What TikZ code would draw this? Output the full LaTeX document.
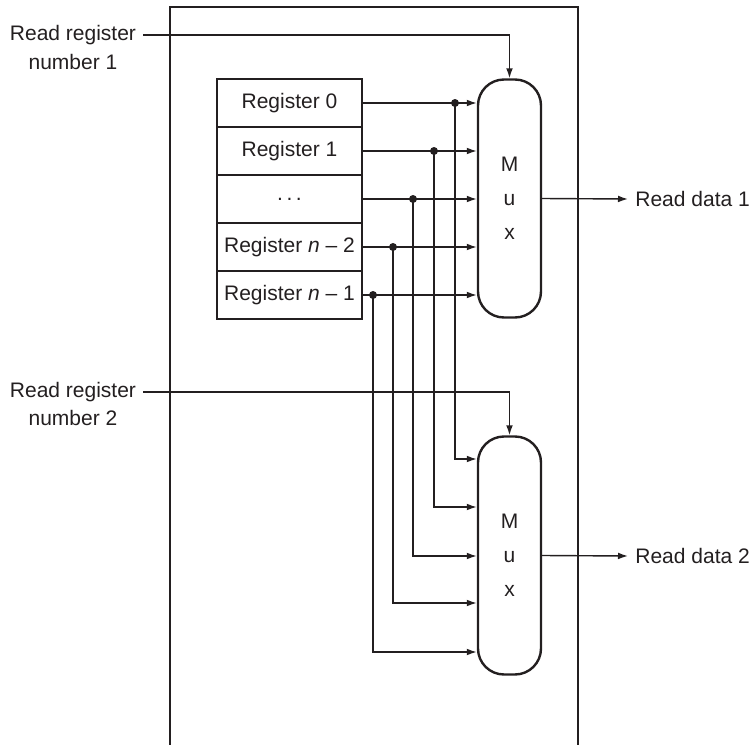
\documentclass[tikz,border=0pt]{standalone}
\usepackage{fontspec}
\setmainfont{Liberation Sans}
\usepackage{tikz}
\usetikzlibrary{arrows.meta,positioning,calc}
\definecolor{ink}{RGB}{35,31,32}

\tikzset{
  regbox/.style={draw=ink,line width=1.2pt,minimum width=72.5pt,minimum height=24pt,inner sep=0pt,text=ink,font=\fontsize{10.5}{12.6}\selectfont},
  muxbox/.style={draw=ink,line width=1.2pt,rounded corners=13pt,minimum width=31.5pt,minimum height=119pt,inner sep=0pt,align=center,text=ink,font=\fontsize{10.5}{17}\selectfont},
  wire/.style={draw=ink,line width=0.7pt},
  arr/.style={wire,-{Latex[length=5pt,width=3.4pt]}},
  lbl/.style={text=ink,inner sep=3.5pt,font=\fontsize{10.5}{12.6}\selectfont},
  tapdot/.style={fill=ink}
}

\begin{document}
\begin{tikzpicture}[x=0.5pt,y=-0.5pt]
  \useasboundingbox (0,0) rectangle (752,745);

  % register file outline (open at the bottom)
  \draw[ink,line width=1.3pt] (170,745) -- (170,7) -- (578,7) -- (578,745);

  % registers
  \node[regbox] (reg0) at (289.5,103) {Register 0};
  \node[regbox] (reg1) at (289.5,151) {Register 1};
  \node[regbox] (reg2) at (289.5,199) {.\,.\,.};
  \node[regbox] (reg3) at (289.5,247) {Register \textit{n} -- 2};
  \node[regbox] (reg4) at (289.5,295) {Register \textit{n} -- 1};

  % multiplexors
  \node[muxbox] (mux1) at (509.5,198.5) {M\\u\\x};
  \node[muxbox] (mux2) at (509.5,555.5) {M\\u\\x};

  % read port labels
  \node[lbl] (rr1) at (73,35) {Read register};
  \node[lbl] (rr1n) at (73,62) {number 1};
  \node[lbl] (rr2) at (73,392) {Read register};
  \node[lbl] (rr2n) at (73,418) {number 2};
  \node[lbl,anchor=west] (rd1) at (628,199) {Read data 1};
  \node[lbl,anchor=west] (rd2) at (628,556) {Read data 2};

  % select lines
  \draw[arr] (rr1.east) -| (mux1.north);
  \draw[arr] (rr2.east) -| (mux2.north);

  % register outputs into mux 1
  \draw[arr] (reg0.east) -- (reg0.east -| mux1.west);
  \draw[arr] (reg1.east) -- (reg1.east -| mux1.west);
  \draw[arr] (reg2.east) -- (reg2.east -| mux1.west);
  \draw[arr] (reg3.east) -- (reg3.east -| mux1.west);
  \draw[arr] (reg4.east) -- (reg4.east -| mux1.west);

  % taps down to mux 2
  \coordinate (tap0) at (455,103);
  \coordinate (tap1) at (434,151);
  \coordinate (tap2) at (413,199);
  \coordinate (tap3) at (393,247);
  \coordinate (tap4) at (373,295);
  \draw[arr] (tap0) |- ($(mux2.west)+(0,-96.5)$);
  \draw[arr] (tap1) |- ($(mux2.west)+(0,-48.5)$);
  \draw[arr] (tap2) |- ($(mux2.west)+(0,0.5)$);
  \draw[arr] (tap3) |- ($(mux2.west)+(0,47.5)$);
  \draw[arr] (tap4) |- ($(mux2.west)+(0,96.5)$);
  \fill[tapdot] (tap0) circle (2pt);
  \fill[tapdot] (tap1) circle (2pt);
  \fill[tapdot] (tap2) circle (2pt);
  \fill[tapdot] (tap3) circle (2pt);
  \fill[tapdot] (tap4) circle (2pt);

  % outputs
  \draw[arr] (mux1.east) -- (rd1.west);
  \draw[arr] (mux2.east) -- (rd2.west);
\end{tikzpicture}
\end{document}
